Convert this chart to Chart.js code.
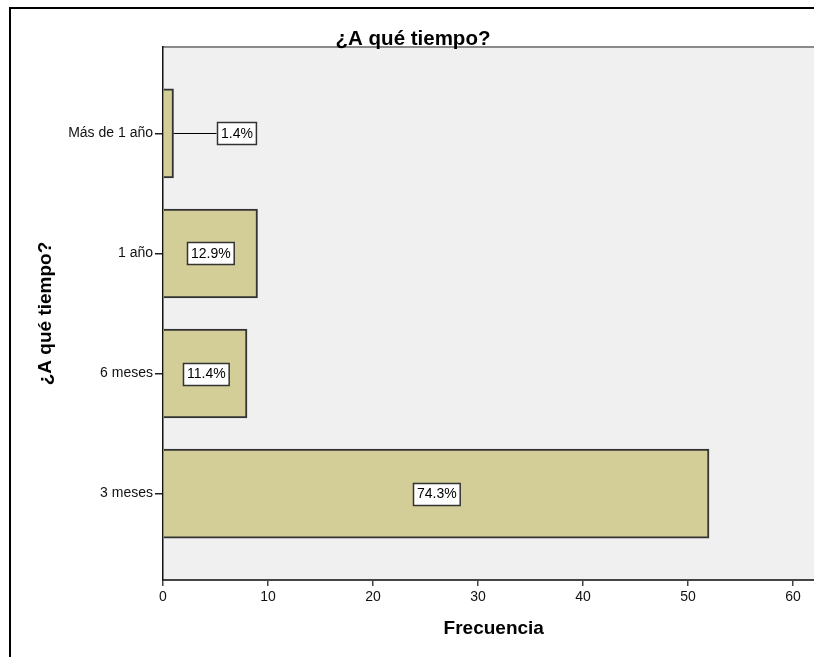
<!DOCTYPE html>
<html>
<head>
<meta charset="utf-8">
<script src="https://cdn.jsdelivr.net/npm/chart.js@4.4.1/dist/chart.umd.min.js"></script>
<style>
  html, body { margin: 0; padding: 0; background: #fff; overflow: hidden; }
  #wrap { width: 814px; height: 657px; overflow: hidden; }
  canvas { display: block; }
</style>
</head>
<body>
<div id="wrap"><canvas id="chart" width="830" height="657"></canvas></div>
<script>
// ------------------------------------------------------------
// ¿A qué tiempo? — frecuencia por categoría (SPSS style bar chart)
// ------------------------------------------------------------

const CATEGORIES = ["3 meses", "6 meses", "1 año", "Más de 1 año"];
const FREQUENCIES = [52, 8, 9, 1];
const PERCENT_LABELS = ["74.3%", "11.4%", "12.9%", "1.4%"];
const X_TICKS = [0, 10, 20, 30, 40, 50, 60];

const TITLE = "¿A qué tiempo?";
const X_TITLE = "Frecuencia";
const Y_TITLE = "¿A qué tiempo?";

const FONT = "'Liberation Sans', Arial, sans-serif";
const BAR_FILL = "#D3CE97";
const BAR_EDGE = "#333";
const PLOT_BG = "#F0F0F0";

// frame, plot background and the titles
const backdrop = {
  id: "backdrop",
  beforeDraw(chart) {
    const { ctx, chartArea: a } = chart;
    ctx.save();
    ctx.strokeStyle = "#000";
    ctx.lineWidth = 2;
    ctx.strokeRect(10, 8, 817, 700);
    ctx.fillStyle = PLOT_BG;
    ctx.fillRect(a.left, a.top, a.right - a.left, a.bottom - a.top);
    ctx.strokeStyle = "#8a8a8a";
    ctx.lineWidth = 2;
    ctx.beginPath();
    ctx.moveTo(a.left, a.top);
    ctx.lineTo(a.right, a.top);
    ctx.stroke();
    ctx.restore();
  },
  afterDraw(chart) {
    const { ctx, chartArea: a } = chart;
    ctx.save();
    ctx.fillStyle = "#000";
    ctx.font = "bold 20.5px " + FONT;
    ctx.textAlign = "center";
    ctx.textBaseline = "alphabetic";
    ctx.fillText(TITLE, 413, 45);

    ctx.font = "bold 19px " + FONT;
    ctx.textBaseline = "middle";
    ctx.fillText(X_TITLE, (a.left + a.right) / 2, 629);

    ctx.translate(46, (a.top + a.bottom) / 2);
    ctx.rotate(-Math.PI / 2);
    ctx.fillText(Y_TITLE, 0, 0);
    ctx.restore();
  }
};

// boxed percentage labels, placed outside with a leader line when the bar is too short
const boxLabels = {
  id: "boxLabels",
  afterDatasetsDraw(chart) {
    const { ctx } = chart;
    const meta = chart.getDatasetMeta(0);
    ctx.save();
    ctx.font = "14px " + FONT;
    ctx.textAlign = "center";
    ctx.textBaseline = "middle";
    meta.data.forEach((bar, i) => {
      const text = PERCENT_LABELS[i];
      const w = ctx.measureText(text).width + 7;
      const h = 22;
      const len = bar.x - bar.base;
      let cx = (bar.x + bar.base) / 2;
      if (len < w + 10) {
        const left = bar.x + 43;
        ctx.strokeStyle = "#000";
        ctx.lineWidth = 1;
        ctx.beginPath();
        ctx.moveTo(bar.x, Math.round(bar.y) + 0.5);
        ctx.lineTo(left, Math.round(bar.y) + 0.5);
        ctx.stroke();
        cx = left + w / 2;
      }
      const x0 = Math.round(cx - w / 2) + 0.5;
      const y0 = Math.round(bar.y - h / 2) + 0.5;
      ctx.fillStyle = "#fff";
      ctx.fillRect(x0, y0, w, h);
      ctx.strokeStyle = "#333";
      ctx.lineWidth = 1.5;
      ctx.strokeRect(x0, y0, w, h);
      ctx.fillStyle = "#000";
      ctx.fillText(text, x0 + w / 2, bar.y + 1);
    });
    ctx.restore();
  }
};

new Chart(document.getElementById("chart"), {
  type: "bar",
  data: {
    datasets: [{
      data: FREQUENCIES.map((v, i) => ({ x: v, y: i })),
      backgroundColor: BAR_FILL,
      borderColor: BAR_EDGE,
      borderWidth: 2,
      barThickness: 89,
    }]
  },
  options: {
    indexAxis: "y",
    responsive: false,
    animation: false,
    devicePixelRatio: 1,
    layout: { padding: { top: 47, left: 0, right: 5.5, bottom: 0 } },
    plugins: { legend: { display: false }, tooltip: { enabled: false }, title: { display: false } },
    scales: {
      x: {
        type: "linear",
        min: 0,
        max: 63,
        afterBuildTicks: s => { s.ticks = X_TICKS.map(v => ({ value: v })); },
        afterFit: s => { s.height = 77; },
        grid: { drawOnChartArea: false, drawTicks: true, tickLength: 6, color: "#444", lineWidth: 1.5 },
        border: { color: "#444", width: 2 },
        ticks: { padding: 3, color: "#111", font: { family: FONT, size: 14 } },
      },
      y: {
        type: "linear",
        min: -0.72,
        max: 3.72,
        offset: false,
        z: 1,
        afterBuildTicks: s => { s.ticks = CATEGORIES.map((c, i) => ({ value: i })); },
        afterFit: s => { s.width = 163; },
        grid: { offset: false, drawOnChartArea: false, drawTicks: true, tickLength: 8, color: "#222", lineWidth: 1.5 },
        border: { color: "#111", width: 1.5 },
        ticks: {
          padding: 2,
          color: "#111",
          font: { family: FONT, size: 14 },
          callback: v => CATEGORIES[v],
        },
      }
    }
  },
  plugins: [backdrop, boxLabels]
});
</script>
</body>
</html>
